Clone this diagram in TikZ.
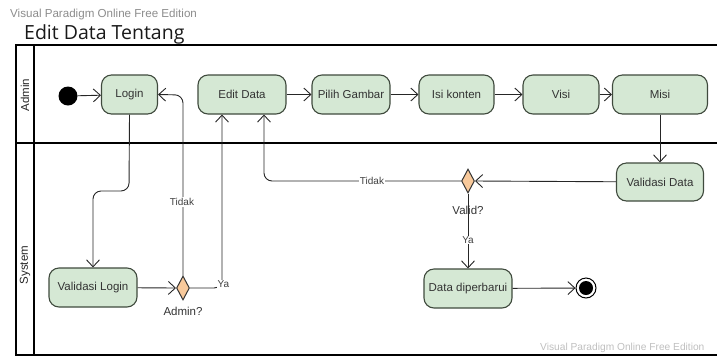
\documentclass[tikz,border=0pt]{standalone}
\usepackage{fontspec}
\setmainfont{Liberation Sans}
\newfontfamily\titlefont{Open Sans}
\usetikzlibrary{arrows.meta,shapes.geometric}
\definecolor{boxfill}{HTML}{D5E8D4}
\definecolor{boxline}{HTML}{3F4A3D}
\definecolor{decfill}{HTML}{F8C99B}
\tikzset{
  act/.style={draw=boxline, line width=1.1pt, fill=boxfill, rounded corners=10pt,
    minimum height=39pt, inner sep=2pt, font=\fontsize{11.5}{13}\selectfont, text=black!80},
  dec/.style={diamond, draw=black!80, line width=1pt, fill=decfill, inner sep=0pt,
    minimum width=13pt, minimum height=24pt, aspect=0.5},
  flow/.style={draw=black!85, line width=0.9pt, -{Straight Barb[length=7pt,width=13pt,line width=0.9pt]}, rounded corners=8pt},
  elab/.style={font=\fontsize{10}{12}\selectfont, text=black!75, fill=white, inner sep=1pt},
  dlab/.style={font=\fontsize{11.5}{13}\selectfont, text=black!80, inner sep=1pt},
  lane/.style={draw=black, line width=1.6pt},
}
\begin{document}
\begin{tikzpicture}[x=1pt,y=-1pt]
\useasboundingbox (0,0) rectangle (717,357);
% header texts
\node[anchor=west, font=\fontsize{11.6}{13}\selectfont, text=black!45, inner sep=0pt] (wm) at (10,14) {Visual Paradigm Online Free Edition};
\node[anchor=west, font=\titlefont\fontsize{19.5}{22}\selectfont, text=black!90, inner sep=0pt] (title) at (24,34) {Edit Data Tentang};
% swimlane frame
\draw[lane] (718,45) -- (16,45) -- (16,355) -- (718,355);
\draw[lane] (34,45) -- (34,355);
\draw[lane] (16,143) -- (718,143);
\node[rotate=90, font=\fontsize{11.5}{13}\selectfont, text=black!85] (lanea) at (25,95) {Admin};
\node[rotate=90, font=\fontsize{11.5}{13}\selectfont, text=black!85] (lanes) at (25,265) {System};
% bottom watermark
\node[anchor=west, font=\fontsize{10.2}{12}\selectfont, text=black!25, inner sep=0pt] (wm2) at (540,348) {Visual Paradigm Online Free Edition};
% nodes
\node[circle, fill=black, minimum size=19pt, inner sep=0pt] (init) at (68,96) {};
\node[act, minimum width=56pt] (login) at (129.5,94.5) {Login};
\node[act, minimum width=88pt] (edit) at (242,94.5) {Edit Data};
\node[act, minimum width=78pt] (pilih) at (351,94.5) {Pilih Gambar};
\node[act, minimum width=75pt] (isi) at (456.5,94.5) {Isi konten};
\node[act, minimum width=76pt] (visi) at (561,94.5) {Visi};
\node[act, minimum width=95pt] (misi) at (660,94.5) {Misi};
\node[act, minimum width=87pt, minimum height=38pt] (valdata) at (660,182) {Validasi Data};
\node[act, minimum width=88pt] (datadip) at (468,288.5) {Data diperbarui};
\node[act, minimum width=88pt] (vallogin) at (93,287.5) {Validasi Login};
\node[dec] (admq) at (183,288) {};
\node[dec] (valq) at (468,181) {};
\node[circle, draw=black, line width=1pt, fill=white, minimum size=20pt, inner sep=0pt] (final) at (586,288) {};
\node[circle, fill=black, minimum size=14pt, inner sep=0pt] (finalin) at (586,288) {};
\node[dlab, anchor=north] (admql) at (183,306) {Admin?};
% flows
\draw[flow] (init) -- (login);
\draw[flow] (login.south) -- (129,191) -- (93,191) -- (vallogin.north);
\draw[flow] (vallogin) -- (admq.west);
\draw[flow] (admq.north) -- (183,95) -- (login.east);
\node[elab] (t1) at (182,202) {Tidak};
\draw[flow] (admq.east) -- (222,288) -- (222,114.5);
\node[elab, anchor=west, inner sep=0.5pt] (y1) at (217,284) {Ya};
\draw[flow] (edit) -- (pilih);
\draw[flow] (pilih) -- (isi);
\draw[flow] (isi) -- (visi);
\draw[flow] (visi) -- (misi);
\draw[flow] (misi.south) -- (valdata.north);
\draw[flow] (valdata) -- (valq.east);
\draw[flow] (valq.west) -- (264,181) -- (264,114.5);
\node[elab] (t2) at (372,181) {Tidak};
\draw[flow] (valq.south) -- (datadip.north);
\node[dlab] (vql) at (468,210) {Valid?};
\node[elab] (y2) at (468,240) {Ya};
\draw[flow] (datadip) -- (final);
\end{tikzpicture}
\end{document}
